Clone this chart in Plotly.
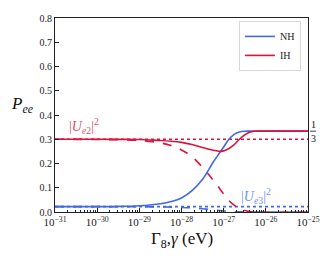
import plotly.graph_objects as go

# x: log10 of Gamma (eV)
gamma_exp = [-31, -30, -29.5, -29, -28.75, -28.5, -28.25, -28, -27.75, -27.5,
             -27.25, -27.1, -27, -26.875, -26.75, -26.625, -26.5, -26.4, -26.27,
             -26, -25.5, -25]
gamma = [10 ** e for e in gamma_exp]

nh_solid = [0.022, 0.022, 0.023, 0.026, 0.029, 0.034, 0.043, 0.058, 0.088, 0.135,
            0.205, 0.243, 0.268, 0.300, 0.320, 0.330, 0.333, 0.3333, 0.3333,
            0.3333, 0.3333, 0.3333]
ih_solid = [0.300, 0.300, 0.2995, 0.299, 0.297, 0.295, 0.292, 0.287, 0.278, 0.266,
            0.255, 0.250, 0.252, 0.262, 0.278, 0.300, 0.318, 0.328, 0.333,
            0.3333, 0.3333, 0.3333]
ih_dashed = [0.300, 0.299, 0.298, 0.295, 0.291, 0.285, 0.274, 0.256, 0.228, 0.184,
             0.132, 0.098, 0.074, 0.047, 0.028, 0.014, 0.006, 0.002, 0.0,
             0.0, 0.0, 0.0]
nh_dashed = [0.022, 0.022, 0.0219, 0.0216, 0.0213, 0.0209, 0.0201, 0.0188, 0.0167, 0.0132,
             0.0089, 0.0062, 0.0044, 0.0025, 0.0012, 0.0005, 0.0001, 0.0, 0.0,
             0.0, 0.0, 0.0]
ue2_sq = 0.30
ue3_sq = 0.022
third = 1 / 3

xtick_exp = [-31, -30, -29, -28, -27, -26, -25]
xtick_text = ["10<sup>−31</sup>", "10<sup>−30</sup>", "10<sup>−29</sup>", "10<sup>−28</sup>",
              "10<sup>−27</sup>", "10<sup>−26</sup>", "10<sup>−25</sup>"]
ytick_vals = [0.0, 0.1, 0.2, 0.3, 0.4, 0.5, 0.6, 0.7, 0.8]
ytick_text = ["0.0", "0.1", "0.2", "0.3", "0.4", "0.5", "0.6", "0.7", "0.8"]

BLUE = "#4169E1"
RED = "#DC143C"
FONT = "Liberation Serif"

fig = go.Figure()
xr = [gamma[0], gamma[-1]]
fig.add_trace(go.Scatter(x=xr, y=[ue2_sq, ue2_sq], mode="lines",
                         line=dict(color=RED, width=1.6, dash="dot"), showlegend=False))
fig.add_trace(go.Scatter(x=xr, y=[ue3_sq, ue3_sq], mode="lines",
                         line=dict(color=BLUE, width=1.6, dash="dot"), showlegend=False))
fig.add_trace(go.Scatter(x=gamma, y=nh_dashed, mode="lines", line_shape="spline",
                         line=dict(color=BLUE, width=1.6, dash="dash"), showlegend=False))
fig.add_trace(go.Scatter(x=gamma, y=ih_dashed, mode="lines", line_shape="spline",
                         line=dict(color=RED, width=1.6, dash="dash"), showlegend=False))
fig.add_trace(go.Scatter(x=gamma, y=nh_solid, mode="lines", line_shape="spline",
                         line=dict(color=BLUE, width=1.6), name="NH"))
fig.add_trace(go.Scatter(x=gamma, y=ih_solid, mode="lines", line_shape="spline",
                         line=dict(color=RED, width=1.6), name="IH"))

fig.update_layout(
    width=332, height=259,
    margin=dict(l=55, r=23, t=15, b=47),
    paper_bgcolor="white", plot_bgcolor="white",
    font=dict(family=FONT, size=10, color="#222"),
    legend=dict(x=0.972, y=0.985, xanchor="right", yanchor="top",
                bordercolor="#d8d8d8", borderwidth=1, bgcolor="white",
                font=dict(size=10, family=FONT), itemwidth=30,
                tracegroupgap=0),
    xaxis=dict(type="log", range=[-31, -25], tickvals=[10 ** e for e in xtick_exp],
               ticktext=xtick_text, ticks="inside", ticklen=4, tickcolor="#222",
               showline=True, linecolor="#222", linewidth=1, mirror=True,
               showgrid=False, zeroline=False,
               minor=dict(ticks="inside", ticklen=2, tickcolor="#222", showgrid=False,
                          dtick="D1"),
               tickfont=dict(size=11)),
    yaxis=dict(range=[0, 0.8], tickvals=ytick_vals, ticktext=ytick_text,
               ticks="inside", ticklen=4, tickcolor="#222",
               showline=True, linecolor="#222", linewidth=1, mirror=True,
               showgrid=False, zeroline=False, tickfont=dict(size=10)),
)

fig.add_annotation(x=-30.72, y=0.305, xref="x", yref="y", xanchor="left", yanchor="bottom",
                   text="|<i>U</i><sub><i>e</i>2</sub>|<sup>2</sup>", showarrow=False,
                   font=dict(size=14, color="rgba(220,20,60,0.8)", family=FONT))
fig.add_annotation(x=-26.23, y=0.016, xref="x", yref="y", xanchor="center", yanchor="bottom",
                   text="|<i>U</i><sub><i>e</i>3</sub>|<sup>2</sup>", showarrow=False,
                   font=dict(size=14, color="rgba(65,105,225,0.75)", family=FONT))
fig.add_annotation(x=-0.075, y=0.553, xref="paper", yref="paper", xanchor="right",
                   text="<i>P</i><sub><i>ee</i></sub>", showarrow=False,
                   font=dict(size=17, family=FONT, color="#111"))
fig.add_annotation(x=0.5, y=-0.142, xref="paper", yref="paper", yanchor="middle",
                   text="Γ<sub>8</sub>,<i>γ</i> (eV)", showarrow=False,
                   font=dict(size=17, family=FONT, color="#111"))
# right-side 1/3 marker
fig.add_annotation(x=1.0, y=third, xref="paper", yref="y", xanchor="left", yanchor="bottom",
                   xshift=1, yshift=-1, text="1", showarrow=False,
                   font=dict(size=10, family=FONT, color="#111"))
fig.add_annotation(x=1.0, y=third, xref="paper", yref="y", xanchor="left", yanchor="top",
                   xshift=1, yshift=0, text="3", showarrow=False,
                   font=dict(size=10, family=FONT, color="#111"))
fig.add_shape(type="line", xref="paper", yref="y", x0=1.008, x1=1.032, y0=third, y1=third,
              line=dict(color="#111", width=0.8))

fig.write_html("out.html", post_script="document.body.style.margin='0';",
               config={"displayModeBar": False})
